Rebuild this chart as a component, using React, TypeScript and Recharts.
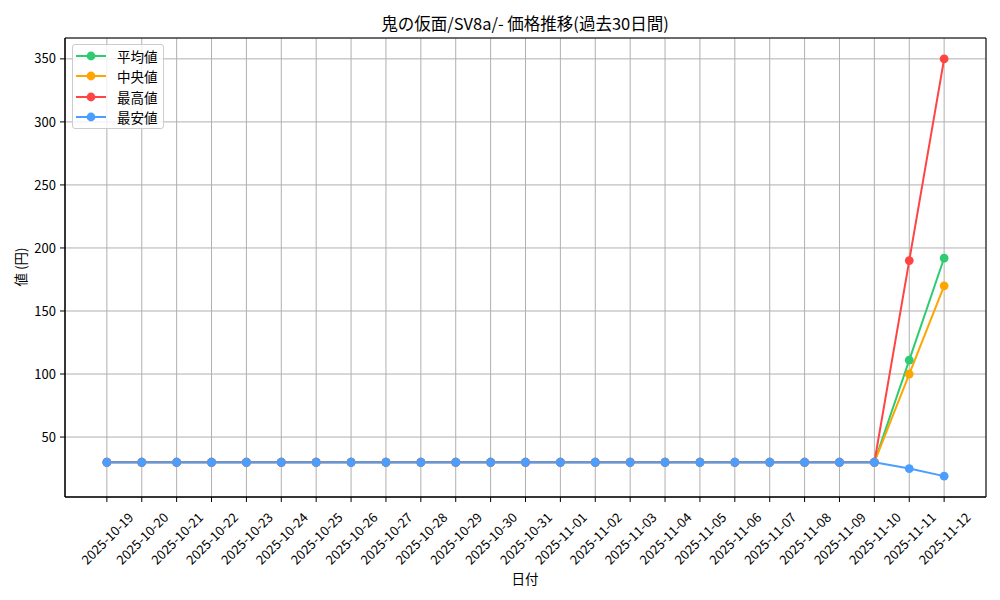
import React from "react";
import {
  LineChart,
  Line,
  XAxis,
  YAxis,
  CartesianGrid,
  Legend,
  ReferenceArea,
} from "recharts";

const dates = [
  "2025-10-19", "2025-10-20", "2025-10-21", "2025-10-22", "2025-10-23",
  "2025-10-24", "2025-10-25", "2025-10-26", "2025-10-27", "2025-10-28",
  "2025-10-29", "2025-10-30", "2025-10-31", "2025-11-01", "2025-11-02",
  "2025-11-03", "2025-11-04", "2025-11-05", "2025-11-06", "2025-11-07",
  "2025-11-08", "2025-11-09", "2025-11-10", "2025-11-11", "2025-11-12",
];

const avgPrices = [30, 30, 30, 30, 30, 30, 30, 30, 30, 30, 30, 30, 30, 30, 30, 30, 30, 30, 30, 30, 30, 30, 30, 111, 192];
const medianPrices = [30, 30, 30, 30, 30, 30, 30, 30, 30, 30, 30, 30, 30, 30, 30, 30, 30, 30, 30, 30, 30, 30, 30, 100, 170];
const maxPrices = [30, 30, 30, 30, 30, 30, 30, 30, 30, 30, 30, 30, 30, 30, 30, 30, 30, 30, 30, 30, 30, 30, 30, 190, 350];
const minPrices = [30, 30, 30, 30, 30, 30, 30, 30, 30, 30, 30, 30, 30, 30, 30, 30, 30, 30, 30, 30, 30, 30, 30, 25, 19];

const yTicks = [50, 100, 150, 200, 250, 300, 350];

const series = [
  { key: "avg", name: "平均値", color: "#2ecc71" },
  { key: "median", name: "中央値", color: "#ffa500" },
  { key: "max", name: "最高値", color: "#ff4444" },
  { key: "min", name: "最安値", color: "#4a9eff" },
];

const data = dates.map((d, i) => ({
  idx: i,
  date: d,
  avg: avgPrices[i],
  median: medianPrices[i],
  max: maxPrices[i],
  min: minPrices[i],
}));

const FONT = "'Noto Sans CJK JP', 'Noto Sans', sans-serif";

// matplotlib-like auto margins (5%)
const xDomain = [-1.2, dates.length - 1 + 1.2];
const yDomain = [2.45, 366.55];

function DateTick(props: any) {
  const { x, y, payload } = props;
  return (
    <g transform={`translate(${x},${y + 34}) rotate(-45)`}>
      <text
        textAnchor="middle"
        dominantBaseline="central"
        fontSize={13}
        fill="#000"
        fontFamily={FONT}
      >
        {dates[payload.value]}
      </text>
    </g>
  );
}

function LegendBox() {
  return (
    <div
      style={{
        border: "1px solid #cccccc",
        borderRadius: 3,
        background: "rgba(255,255,255,0.8)",
        padding: "1px 5px 1px 3px",
        fontFamily: FONT,
        fontSize: 13.5,
        lineHeight: "20.3px",
      }}
    >
      {series.map((s) => (
        <div key={s.key} style={{ display: "flex", alignItems: "center", height: 20.3 }}>
          <svg width={30} height={20} style={{ marginRight: 11 }}>
            <line x1={0} y1={10} x2={30} y2={10} stroke={s.color} strokeWidth={2} />
            <circle cx={15} cy={10} r={4.4} fill={s.color} />
          </svg>
          <span>{s.name}</span>
        </div>
      ))}
    </div>
  );
}

export default function App() {
  return (
    <div style={{ position: "absolute", left: 0, top: 0, width: 1000, height: 600, background: "#fff" }}>
      <LineChart
        width={1000}
        height={600}
        data={data}
        margin={{ top: 38, right: 14, bottom: 13, left: 5 }}
      >
        <CartesianGrid stroke="#b0b0b0" strokeWidth={1} />
        <XAxis
          dataKey="idx"
          type="number"
          domain={xDomain}
          ticks={dates.map((_, i) => i)}
          interval={0}
          allowDataOverflow
          height={90}
          tick={<DateTick />}
          tickSize={5}
          stroke="#000"
          tickLine={{ stroke: "#000" }}
        />
        <YAxis
          type="number"
          domain={yDomain}
          ticks={yTicks}
          allowDataOverflow
          width={60}
          tickSize={5}
          tickMargin={4}
          stroke="#000"
          tick={{ fill: "#000", fontSize: 13, fontFamily: FONT }}
        />
        <ReferenceArea
          x1={xDomain[0]}
          x2={xDomain[1]}
          y1={yDomain[0]}
          y2={yDomain[1]}
          fill="none"
          stroke="#000"
          strokeWidth={1}
          ifOverflow="visible"
        />
        {series.map((s) => (
          <Line
            key={s.key}
            dataKey={s.key}
            name={s.name}
            stroke={s.color}
            strokeWidth={2}
            dot={{ r: 4.4, fill: s.color, stroke: "none" }}
            activeDot={false}
            isAnimationActive={false}
          />
        ))}
        <Legend
          layout="vertical"
          align="center"
          verticalAlign="middle"
          content={<LegendBox />}
          wrapperStyle={{ position: "absolute", left: 72, top: 44, width: "auto", height: "auto" }}
        />
        <text x={525} y={23} textAnchor="middle" dominantBaseline="central" fontSize={16.5} fontFamily={FONT} fill="#000">
          鬼の仮面/SV8a/- 価格推移(過去30日間)
        </text>
        <text x={525} y={578} textAnchor="middle" dominantBaseline="central" fontSize={13.5} fontFamily={FONT} fill="#000">
          日付
        </text>
        <text
          x={20}
          y={267}
          textAnchor="middle"
          dominantBaseline="central"
          fontSize={13.5}
          fontFamily={FONT}
          fill="#000"
          transform="rotate(-90 20 267)"
        >
          値 (円)
        </text>
      </LineChart>
    </div>
  );
}
